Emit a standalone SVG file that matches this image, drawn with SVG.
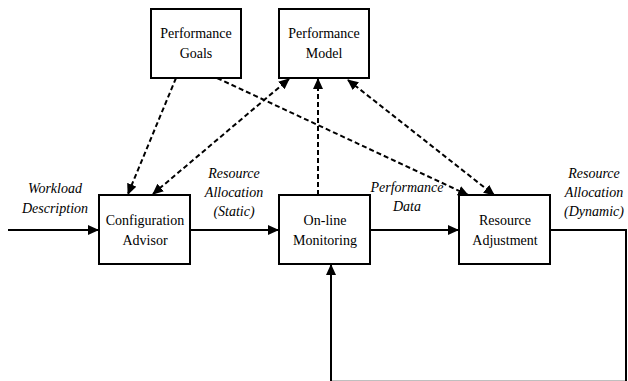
<svg xmlns="http://www.w3.org/2000/svg" width="628" height="381" viewBox="0 0 628 381">
<style>
.box{fill:#fff;stroke:#000;stroke-width:2}
.solid{fill:none;stroke:#000;stroke-width:2}
.dash{fill:none;stroke:#000;stroke-width:2;stroke-dasharray:5,3}
.t{font-family:'Liberation Serif','Times New Roman',serif;font-size:14px;fill:#000;text-anchor:middle}
.i{font-style:italic}
</style>
<defs>
<marker id="ah" markerWidth="11" markerHeight="10" refX="10" refY="5" orient="auto" markerUnits="userSpaceOnUse">
<path d="M0,0 L11,5 L0,10 Z" fill="#000"/>
</marker>
<marker id="as" markerWidth="11" markerHeight="10" refX="1" refY="5" orient="auto" markerUnits="userSpaceOnUse">
<path d="M11,0 L0,5 L11,10 Z" fill="#000"/>
</marker>
</defs>
<g id="connectors">
<path class="solid" d="M8,230 H98" marker-end="url(#ah)"/>
<path class="solid" d="M190,230 H278" marker-end="url(#ah)"/>
<path class="solid" d="M370,230 H458" marker-end="url(#ah)"/>
<path class="solid" d="M550,230 H626 V381.7 H331 V265" marker-end="url(#ah)"/>
<path class="dash" d="M176,78 L128,194" marker-end="url(#ah)"/>
<path class="dash" d="M217,78 L468,195" marker-end="url(#ah)"/>
<path class="dash" d="M153,194 L289,79" marker-start="url(#as)" marker-end="url(#ah)"/>
<path class="dash" d="M318,195 V79" marker-end="url(#ah)"/>
<path class="dash" d="M348,80 L494,195" marker-start="url(#as)" marker-end="url(#ah)"/>
</g>
<g id="goals">
<rect class="box" x="151" y="9" width="90" height="69"/>
<text class="t" x="196" y="38" font-family="Liberation Serif">Performance</text>
<text class="t" x="196" y="58" font-family="Liberation Serif">Goals</text>
</g>
<g id="model">
<rect class="box" x="279" y="9" width="90" height="69"/>
<text class="t" x="324" y="38" font-family="Liberation Serif">Performance</text>
<text class="t" x="324" y="58" font-family="Liberation Serif">Model</text>
</g>
<g id="advisor">
<rect class="box" x="99" y="195" width="91" height="69"/>
<text class="t" x="145" y="225" font-family="Liberation Serif">Configuration</text>
<text class="t" x="145" y="245" font-family="Liberation Serif">Advisor</text>
</g>
<g id="monitoring">
<rect class="box" x="279" y="195" width="91" height="69"/>
<text class="t" x="325" y="225" font-family="Liberation Serif">On-line</text>
<text class="t" x="325" y="245" font-family="Liberation Serif">Monitoring</text>
</g>
<g id="adjustment">
<rect class="box" x="459" y="195" width="91" height="69"/>
<text class="t" x="505" y="225" font-family="Liberation Serif">Resource</text>
<text class="t" x="505" y="245" font-family="Liberation Serif">Adjustment</text>
</g>
<g id="labels">
<text class="t i" x="55" y="193" font-family="Liberation Serif">Workload</text>
<text class="t i" x="55" y="213" font-family="Liberation Serif">Description</text>
<text class="t i" x="234" y="178" font-family="Liberation Serif">Resource</text>
<text class="t i" x="234" y="197" font-family="Liberation Serif">Allocation</text>
<text class="t i" x="234" y="216" font-family="Liberation Serif">(Static)</text>
<text class="t i" x="407" y="192" font-family="Liberation Serif">Performance</text>
<text class="t i" x="407" y="211" font-family="Liberation Serif">Data</text>
<text class="t i" x="594" y="178" font-family="Liberation Serif">Resource</text>
<text class="t i" x="594" y="197" font-family="Liberation Serif">Allocation</text>
<text class="t i" x="594" y="216" font-family="Liberation Serif">(Dynamic)</text>
</g>
</svg>
